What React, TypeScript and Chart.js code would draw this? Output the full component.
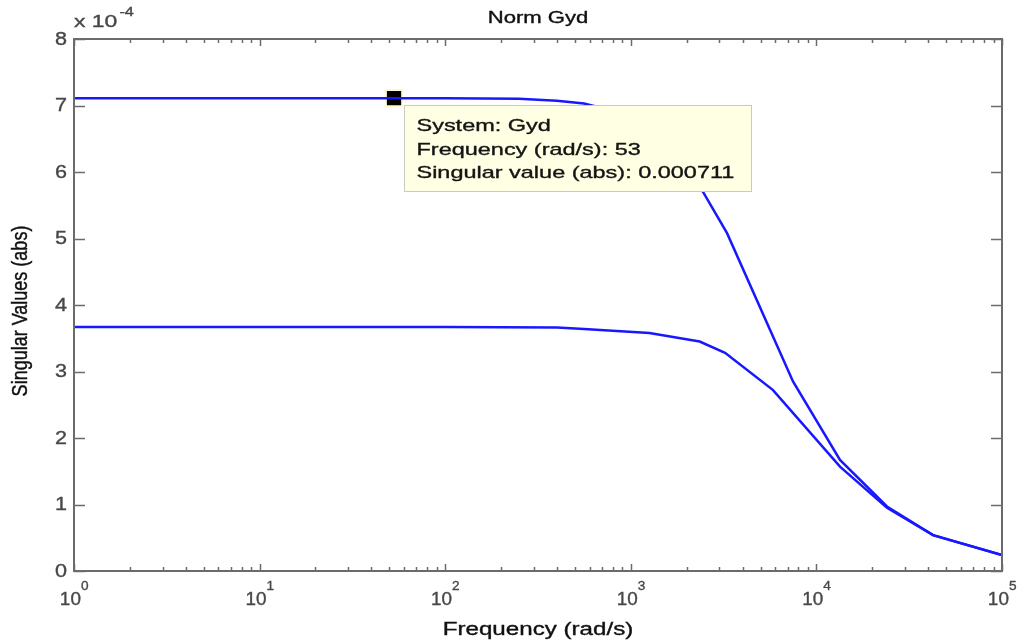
import React, { useEffect, useRef } from "react";
import { Chart, registerables } from "chart.js";

Chart.register(...registerables);

// Singular-value sigma plot of Gyd (values in absolute units)
const freqMax = [1, 100, 250, 400, 560, 1000, 1600, 2450, 3300, 7480, 13400, 24000, 42500, 100000];
const svMax = [7.11e-4, 7.11e-4, 7.1e-4, 7.07e-4, 7.03e-4, 6.85e-4, 6.4e-4, 5.7e-4, 5.08e-4, 2.85e-4, 1.67e-4, 0.97e-4, 0.54e-4, 0.24e-4];

const freqMin = [1, 100, 400, 560, 1260, 2350, 3220, 5840, 13400, 24000, 42500, 100000];
const svMin = [3.67e-4, 3.67e-4, 3.66e-4, 3.64e-4, 3.58e-4, 3.45e-4, 3.28e-4, 2.72e-4, 1.57e-4, 0.95e-4, 0.54e-4, 0.24e-4];

// Data tip
const tipSystem = "Gyd";
const tipFreq = 53;
const tipValue = 0.000711;

// Axes
const xDecades = [0, 1, 2, 3, 4, 5];
const yTickValues = [0, 1, 2, 3, 4, 5, 6, 7, 8];
const yTickLabels = ["0", "1", "2", "3", "4", "5", "6", "7", "8"];
const yExponent = -4;
const titleText = "Norm Gyd";
const xTitle = "Frequency (rad/s)";
const yTitle = "Singular Values (abs)";

const FONT = '"Liberation Sans", Arial, Helvetica, sans-serif';
const LINE_BLUE = "rgb(24, 24, 255)";
const AXIS_GRAY = "#6b6b6b";
const LABEL_GRAY = "#474747";

function drawText(
  ctx: CanvasRenderingContext2D,
  text: string,
  x: number,
  y: number,
  size: number,
  sx: number,
  align: "left" | "center" | "right",
  baseline: CanvasTextBaseline,
  color: string,
  heavy = 0.35
): number {
  ctx.save();
  ctx.font = `${size}px ${FONT}`;
  ctx.fillStyle = color;
  ctx.strokeStyle = color;
  ctx.lineWidth = heavy;
  ctx.textBaseline = baseline;
  ctx.textAlign = "left";
  const w = ctx.measureText(text).width * sx;
  const x0 = align === "left" ? x : align === "center" ? x - w / 2 : x - w;
  ctx.translate(x0, y);
  ctx.scale(sx, 1);
  ctx.fillText(text, 0, 0);
  if (heavy > 0) ctx.strokeText(text, 0, 0);
  ctx.restore();
  return w;
}

const sigmaDecor = {
  id: "sigmaDecor",
  afterDatasetsDraw(chart: any) {
    const ctx: CanvasRenderingContext2D = chart.ctx;
    const { left, right, top, bottom } = chart.chartArea;
    const xs = chart.scales.x;
    const ys = chart.scales.y;
    const scaleY = Math.pow(10, yExponent);

    ctx.save();
    // frame
    ctx.strokeStyle = AXIS_GRAY;
    ctx.lineWidth = 2;
    ctx.strokeRect(left, top, right - left, bottom - top);
    ctx.lineWidth = 1.5;
    ctx.beginPath();
    // y ticks on both sides
    yTickValues.forEach((v) => {
      const py = Math.round(ys.getPixelForValue(v * scaleY)) + 0.5;
      ctx.moveTo(left, py);
      ctx.lineTo(left + 11, py);
      ctx.moveTo(right, py);
      ctx.lineTo(right - 11, py);
    });
    // x ticks (decades and minor) top and bottom
    xDecades.forEach((d) => {
      for (let k = 1; k <= 9; k++) {
        if (d === xDecades[xDecades.length - 1] && k > 1) break;
        const px = Math.round(xs.getPixelForValue(k * Math.pow(10, d))) + 0.5;
        const len = k === 1 ? 7 : 4;
        ctx.moveTo(px, bottom);
        ctx.lineTo(px, bottom - len);
        ctx.moveTo(px, top);
        ctx.lineTo(px, top + len);
      }
    });
    ctx.stroke();
    ctx.restore();

    // y tick labels
    yTickValues.forEach((v, i) => {
      const py = ys.getPixelForValue(v * scaleY);
      drawText(ctx, yTickLabels[i], left - 7, py + 1, 18, 1.2, "right", "middle", LABEL_GRAY);
    });
    // multiplier
    const wx = drawText(ctx, "x 10", left, 27, 17, 1.35, "left", "alphabetic", LABEL_GRAY);
    drawText(ctx, String(yExponent), left + wx + 2, 16, 12, 1.35, "left", "alphabetic", LABEL_GRAY);

    // x tick labels 10^d
    xDecades.forEach((d) => {
      const px = xs.getPixelForValue(Math.pow(10, d));
      ctx.save();
      ctx.font = `18px ${FONT}`;
      const wb = ctx.measureText("10").width;
      ctx.font = `13px ${FONT}`;
      const we = ctx.measureText(String(d)).width;
      ctx.restore();
      const total = wb + 1 + we;
      const x0 = px - total / 2;
      drawText(ctx, "10", x0, 605, 18, 1.05, "left", "alphabetic", LABEL_GRAY);
      drawText(ctx, String(d), x0 + wb + 1, 590, 13, 1.05, "left", "alphabetic", LABEL_GRAY);
    });

    // titles
    const cx = (left + right) / 2;
    drawText(ctx, titleText, cx, 23, 16, 1.38, "center", "alphabetic", "#111");
    drawText(ctx, xTitle, cx, 635, 17.5, 1.38, "center", "alphabetic", "#111");
    ctx.save();
    ctx.translate(21, (top + bottom) / 2 + 6);
    ctx.scale(1.2, 1);
    ctx.rotate(-Math.PI / 2);
    ctx.font = `18px ${FONT}`;
    ctx.fillStyle = "#111";
    ctx.strokeStyle = "#111";
    ctx.lineWidth = 0.35;
    ctx.textAlign = "center";
    ctx.textBaseline = "middle";
    ctx.fillText(yTitle, 0, 0);
    ctx.strokeText(yTitle, 0, 0);
    ctx.restore();

    // data tip box
    const mx = xs.getPixelForValue(tipFreq);
    const my = ys.getPixelForValue(tipValue);
    const lines = [
      `System: ${tipSystem}`,
      `Frequency (rad/s): ${tipFreq}`,
      `Singular value (abs): ${tipValue}`,
    ];
    ctx.save();
    ctx.font = `17px ${FONT}`;
    const tw = Math.max(...lines.map((l) => ctx.measureText(l).width)) * 1.38;
    ctx.restore();
    const bx = Math.round(mx + 10) + 0.5;
    const by = Math.round(my + 7) + 0.5;
    const bw = Math.round(tw + 29);
    const bh = 86;
    ctx.save();
    ctx.fillStyle = "rgb(255, 255, 228)";
    ctx.fillRect(bx, by, bw, bh);
    ctx.strokeStyle = "#c9c9c9";
    ctx.lineWidth = 1;
    ctx.strokeRect(bx, by, bw, bh);
    ctx.restore();
    const offs = [25, 49, 72];
    lines.forEach((l, i) => {
      drawText(ctx, l, bx + 12, by + offs[i], 17, 1.38, "left", "alphabetic", "#141414");
    });
  },
};

export default function App() {
  const canvasRef = useRef<HTMLCanvasElement | null>(null);

  useEffect(() => {
    const canvas = canvasRef.current;
    if (!canvas) return;
    const chart = new Chart(canvas, {
      type: "line",
      data: {
        datasets: [
          {
            label: "max",
            data: freqMax.map((f, i) => ({ x: f, y: svMax[i] })),
            borderColor: LINE_BLUE,
            borderWidth: 2.5,
            pointRadius: 0,
            tension: 0,
            fill: false,
          },
          {
            label: "min",
            data: freqMin.map((f, i) => ({ x: f, y: svMin[i] })),
            borderColor: LINE_BLUE,
            borderWidth: 2.5,
            pointRadius: 0,
            tension: 0,
            fill: false,
          },
          {
            label: "tip",
            data: [{ x: tipFreq, y: tipValue }],
            showLine: false,
            pointStyle: "rect",
            pointRadius: 11.5,
            backgroundColor: "#000",
            borderColor: "rgb(255, 250, 205)",
            borderWidth: 2,
          },
        ],
      },
      options: {
        responsive: false,
        devicePixelRatio: 1,
        animation: false,
        layout: { padding: { left: 74, top: 39, right: 19, bottom: 72 } },
        scales: {
          x: { type: "logarithmic", min: 1, max: 1e5, display: false },
          y: { type: "linear", min: 0, max: 8e-4, display: false },
        },
        plugins: {
          legend: { display: false },
          tooltip: { enabled: false },
          title: { display: false },
        },
      },
      plugins: [sigmaDecor],
    });
    return () => chart.destroy();
  }, []);

  return (
    <div style={{ position: "absolute", left: 0, top: 0, width: 1021, height: 643, background: "#fff" }}>
      <canvas ref={canvasRef} width={1021} height={643} />
    </div>
  );
}
